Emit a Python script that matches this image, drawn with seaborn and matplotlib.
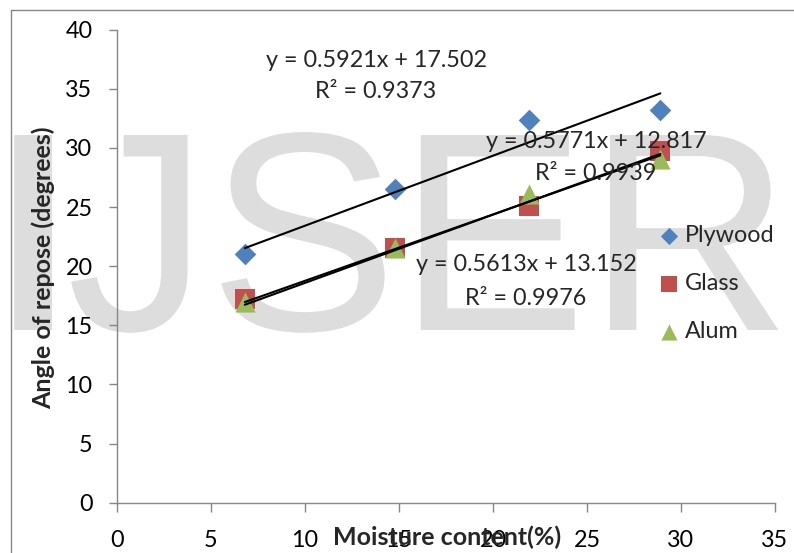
import numpy as np
import pandas as pd
import seaborn as sns
import matplotlib.pyplot as plt
from matplotlib.lines import Line2D
from matplotlib.patches import PathPatch
from matplotlib.textpath import TextPath
from matplotlib.font_manager import FontProperties
from matplotlib.transforms import Affine2D

# Measured angle of repose on three surfaces at four moisture levels
moisture = [6.8, 14.8, 21.9, 28.9]
plywood = [21.0, 26.5, 32.4, 33.2]
glass = [17.2, 21.5, 25.1, 29.7]
alum = [17.0, 21.5, 26.1, 29.1]
surfaces = ["Plywood", "Glass", "Alum"]

# Linear trendline coefficients and fit quality per surface
slopes = [0.5921, 0.5771, 0.5613]
intercepts = [17.502, 12.817, 13.152]
r_squared = [0.9373, 0.9939, 0.9976]

x_ticks = [0, 5, 10, 15, 20, 25, 30, 35]
y_ticks = [0, 5, 10, 15, 20, 25, 30, 35, 40]

W, H = 794, 553

sns.set_style("white")
plt.rcParams["font.family"] = ["Lato", "DejaVu Sans"]
FS = 16.8
FS_TITLE = 18.0

df = pd.DataFrame({
    "moisture": moisture * 3,
    "angle": plywood + glass + alum,
    "surface": np.repeat(surfaces, len(moisture)),
})

colors = {"Plywood": "#4F81BD", "Glass": "#C0504D", "Alum": "#9BBB59"}
markers = {"Plywood": "D", "Glass": "s", "Alum": "^"}
sizes = {"Plywood": 11.0, "Glass": 14.0, "Alum": 14.5}

fig = plt.figure(figsize=(W / 100, H / 100), dpi=100)
ax = fig.add_axes([117 / W, 1 - 502.7 / H, (775 - 117) / W, (502.7 - 29.7) / H])
ax.set_facecolor("none")

# large faint watermark behind the chart, drawn as glyph outlines in pixel space
wm_font = FontProperties(family="Liberation Sans")
wm_color = "#dddddd"
wm = TextPath((0, 0), "IJSER", size=283.5, prop=wm_font)
fig.add_artist(PathPatch(wm, transform=Affine2D().translate(-12, H - 330),
                         facecolor=wm_color, edgecolor="none", zorder=-5))
# the leading I of the stamp is set heavier than the rest
wm_i = TextPath((0, 0), "I", size=283.5, prop=wm_font)
fig.add_artist(PathPatch(wm_i, transform=Affine2D().translate(-1, H - 330),
                         facecolor=wm_color, edgecolor="none", zorder=-5))

for s in surfaces:
    sub = df[df["surface"] == s]
    sns.scatterplot(data=sub, x="moisture", y="angle", marker=markers[s],
                    color=colors[s], s=sizes[s] ** 2, edgecolor=colors[s],
                    linewidth=0, ax=ax, label=s, zorder=3)

# trendlines across the measured moisture range
xs = np.array([min(moisture), max(moisture)])
for m, b in zip(slopes, intercepts):
    ax.plot(xs, m * xs + b, color="black", lw=1.5, zorder=4)

ax.set_xlim(0, 35)
ax.set_ylim(0, 40)
ax.set_xticks(x_ticks)
ax.set_yticks(y_ticks)
ax.tick_params(axis="both", labelsize=FS, length=8.5 * 0.72, width=1,
               color="#868686", labelcolor="black", direction="out")
ax.tick_params(axis="y", pad=11.5, left=True)
ax.tick_params(axis="x", pad=13.5, bottom=True)
for side in ("top", "right"):
    ax.spines[side].set_visible(False)
for side in ("left", "bottom"):
    ax.spines[side].set_color("#868686")
    ax.spines[side].set_linewidth(1.0)

ax.set_xlabel("Moisture content(%)", fontsize=FS_TITLE, fontweight="bold")
ax.xaxis.label.set_va("baseline")
ax.xaxis.set_label_coords((447 - 117) / 658, -(545 - 502.7) / 473)
ax.set_ylabel("Angle of repose (degrees)", fontsize=FS_TITLE, fontweight="bold")
ax.yaxis.label.set_va("center")
ax.yaxis.set_label_coords((43 - 117) / 658, (502.7 - 268) / 473)

# trendline equations
eq_pos = [(376, 67, 98), (596, 148, 180), (526, 271, 305)]
for (cx, y1, y2), m, b, r2 in zip(eq_pos, slopes, intercepts, r_squared):
    fig.text(cx / W, 1 - y1 / H, f"y = {m:.4f}x + {b:.3f}", fontsize=FS,
             ha="center", va="baseline", zorder=6)
    fig.text(cx / W, 1 - y2 / H, f"R² = {r2:.4f}", fontsize=FS,
             ha="center", va="baseline", zorder=6)

leg = ax.legend(loc="upper left", bbox_to_anchor=(658 / W, 1 - 225 / H),
                bbox_transform=fig.transFigure, frameon=False, fontsize=FS,
                markerscale=0.8, handlelength=0.9, handletextpad=0.25,
                labelspacing=1.15, borderpad=0, borderaxespad=0)

# outer chart border
fig.add_artist(Line2D([10.5 / W, 10.5 / W, 1], [0, 1 - 9.5 / H, 1 - 9.5 / H],
                      transform=fig.transFigure, color="#868686", lw=1.0))

fig.savefig("out.png", dpi=100)
